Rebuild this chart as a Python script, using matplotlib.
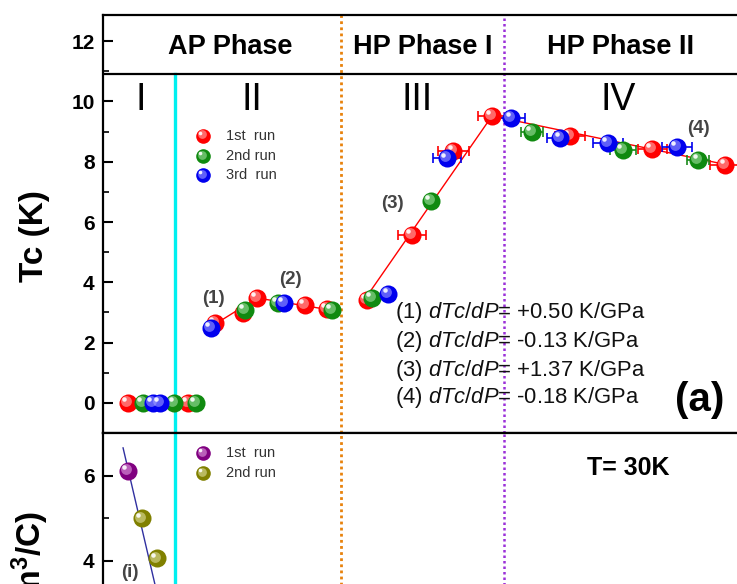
import numpy as np
import matplotlib
matplotlib.use('Agg')
import matplotlib.pyplot as plt
from matplotlib.transforms import offset_copy

plt.rcParams['font.family'] = ['Liberation Sans', 'DejaVu Sans']
plt.rcParams['mathtext.fontset'] = 'custom'
plt.rcParams['mathtext.rm'] = 'Liberation Sans'
plt.rcParams['mathtext.it'] = 'Liberation Sans:italic'
plt.rcParams['mathtext.bf'] = 'Liberation Sans:bold'

# Tc vs pressure (GPa), three runs
p_run1 = [0.00, 2.07, 3.00, 3.97, 4.45, 6.10, 6.86, 8.24, 9.79, 11.21, 12.55, 15.24, 18.07, 20.59]
tc_run1 = [0, 0, 2.65, 2.98, 3.48, 3.25, 3.12, 3.42, 5.57, 8.36, 9.52, 8.86, 8.42, 7.89]
err_run1 = [0, 0, 0, 0, 0, 0, 0, 0, 0.48, 0.53, 0.50, 0.52, 0.50, 0.52]

p_run2 = [0.52, 1.59, 2.34, 4.03, 5.17, 7.03, 8.41, 10.45, 13.93, 17.07, 19.66]
tc_run2 = [0, 0, 0, 3.08, 3.32, 3.08, 3.48, 6.70, 8.99, 8.39, 8.06]
err_run2 = [0, 0, 0, 0, 0, 0, 0, 0, 0.38, 0.45, 0.38]

p_run3 = [0.86, 1.10, 2.86, 5.38, 8.97, 11.00, 13.21, 14.90, 16.55, 18.93]
tc_run3 = [0, 0, 2.49, 3.32, 3.62, 8.12, 9.45, 8.79, 8.62, 8.49]
err_run3 = [0, 0, 0, 0, 0, 0.48, 0.48, 0.45, 0.53, 0.52]

# linear fits (red lines)
fit_p = [[0, 2.07], [2.90, 4.45], [4.45, 7.00], [8.10, 12.55], [12.55, 20.40]]
fit_tc = [[0, 0], [2.55, 3.48], [3.48, 3.08], [3.35, 9.52], [9.52, 7.95]]
fit_labels = ['(1)', '(2)', '(3)', '(4)']
fit_label_p = [2.93, 5.59, 9.10, 19.66]
fit_label_tc = [3.45, 4.11, 6.63, 9.12]
slopes = ['+0.50', '-0.13', '+1.37', '-0.18']

# lower panel
p_hall1 = [0.00]
rh_hall1 = [6.12]
p_hall2 = [0.48, 1.00]
rh_hall2 = [5.00, 4.06]
hall_fit_p = [-0.17, 1.10]
hall_fit_rh = [6.66, 2.95]

# phase boundaries
p_cyan = 1.62
p_orange = 7.34
p_purple = 12.97
phases = ['AP Phase', 'HP Phase I', 'HP Phase II']
phase_p = [3.52, 10.17, 16.97]
regions = ['I', 'II', 'III', 'IV']
region_p = [0.45, 4.28, 9.97, 16.9]

W, H = 737, 584
fig = plt.figure(figsize=(W / 100, H / 100), dpi=100)

x_left, x_right = 103, 760
ax1 = fig.add_axes([x_left / W, (H - 433) / H, (x_right - x_left) / W, (433 - 15) / H])
ax2 = fig.add_axes([x_left / W, (H - 700) / H, (x_right - x_left) / W, (700 - 433) / H])

xlim = (-0.862, 21.79)
ax1.set_xlim(xlim)
ax2.set_xlim(xlim)
ax1.set_ylim(-0.995, 12.87)
ax2.set_ylim(0.73, 7.01)


def balls(ax, x, y, color, light, size=13, z=5):
    ax.plot(x, y, 'o', ms=size, color=color, mec='none', zorder=z)
    t1 = offset_copy(ax.transData, fig=fig, x=-size * 0.1, y=size * 0.1, units='points')
    ax.plot(x, y, 'o', ms=size * 0.6, color=light, mec='none', alpha=0.6,
            transform=t1, zorder=z)
    t2 = offset_copy(ax.transData, fig=fig, x=-size * 0.2, y=size * 0.2, units='points')
    ax.plot(x, y, 'o', ms=size * 0.25, color='white', mec='none', alpha=0.9,
            transform=t2, zorder=z)


def err(ax, x, y, e, color, z=4):
    x, y, e = np.array(x), np.array(y), np.array(e)
    m = e > 0
    ax.errorbar(x[m], y[m], xerr=e[m], fmt='none', ecolor=color, elinewidth=1.2,
                capsize=3.5, capthick=1.2, zorder=z)


# frame lines and boundaries
for ax in (ax1, ax2):
    for s in ax.spines.values():
        s.set_linewidth(1.6)
    ax.spines['right'].set_visible(False)
    ax.set_xticks([])
    ax.axvline(p_orange, color='#e8820c', lw=2, ls=(0, (1, 1.2)), zorder=2)
    ax.axvline(p_purple, color='#9b30d9', lw=1.8, ls=(0, (1, 1.2)), zorder=2)
ax1.axhline(10.91, color='black', lw=1.6, zorder=3)
ax1.plot([p_cyan, p_cyan], [-1, 10.91], color='#00f0f0', lw=2.4, zorder=2)
ax2.axvline(p_cyan, color='#00f0f0', lw=2.4, zorder=2)

# fits
for fp, ft in zip(fit_p, fit_tc):
    ax1.plot(fp, ft, color='red', lw=1, zorder=3)

err(ax1, p_run1, tc_run1, err_run1, 'red')
err(ax1, p_run2, tc_run2, err_run2, '#1a8a1a')
err(ax1, p_run3, tc_run3, err_run3, '#0000ee')
balls(ax1, p_run1, tc_run1, '#ff0000', '#ffb0b0', z=5)
balls(ax1, p_run2, tc_run2, '#108a10', '#a0e0a0', z=6)
balls(ax1, p_run3, tc_run3, '#0000ee', '#a0a0ff', z=7)

# legend (upper)
leg_tc = [8.86, 8.19, 7.56]
leg_col = [('#ff0000', '#ffb0b0'), ('#108a10', '#a0e0a0'), ('#0000ee', '#a0a0ff')]
leg_txt = ['1st  run', '2nd run', '3rd  run']
for yy, (c, l), t in zip(leg_tc, leg_col, leg_txt):
    balls(ax1, [2.59], [yy], c, l, size=10.5, z=8)
    ax1.text(3.38, yy, t, fontsize=10.5, color='#333333', va='center', ha='left')

# text
for t, xp in zip(phases, phase_p):
    ax1.text(xp, 11.81, t, fontsize=19.5, fontweight='bold', ha='center', va='center')
for t, xp in zip(regions, region_p):
    ax1.text(xp, 10.05, t, fontsize=27, ha='center', va='center')
for t, xp, yp in zip(fit_labels, fit_label_p, fit_label_tc):
    ax1.text(xp, yp, t, fontsize=13.5, fontweight='bold', color='#444444',
             ha='center', va='center', zorder=9)
for i, (s, yy) in enumerate(zip(slopes, [2.99, 2.02, 1.09, 0.17])):
    ax1.text(9.21, yy, '(%d) $dTc/dP$= %s K/GPa' % (i + 1, s), fontsize=15.8,
             ha='left', va='center', color='#111111', zorder=9)
ax1.text(19.72, 0.1, '(a)', fontsize=29, fontweight='bold', ha='center', va='center')

ax1.set_yticks(np.arange(0, 13, 2))
ax1.set_yticks(np.arange(-1, 13, 1), minor=True)
ax1.tick_params(axis='y', which='major', direction='in', length=7, width=1.5,
                labelsize=15, pad=6)
ax1.tick_params(axis='y', which='minor', direction='in', length=4, width=1.2)
for lb in ax1.get_yticklabels():
    lb.set_fontweight('bold')
fig.text(35 / W, 1 - 236 / H, 'Tc (K)', fontsize=24, fontweight='bold',
         rotation=90, ha='center', va='center')

# lower panel
ax2.plot(hall_fit_p, hall_fit_rh, color='#3030a0', lw=1, zorder=3)
balls(ax2, p_hall1, rh_hall1, '#800080', '#e0a0e0', z=5)
balls(ax2, p_hall2, rh_hall2, '#808000', '#e0e0a0', z=6)
balls(ax2, [2.59], [6.54], '#800080', '#e0a0e0', size=10.5, z=8)
balls(ax2, [2.59], [6.07], '#808000', '#e0e0a0', size=10.5, z=8)
ax2.text(3.38, 6.54, '1st  run', fontsize=10.5, color='#333333', va='center')
ax2.text(3.38, 6.07, '2nd run', fontsize=10.5, color='#333333', va='center')
ax2.text(0.07, 3.74, '(i)', fontsize=13.5, fontweight='bold', color='#444444',
         ha='center', va='center')
ax2.text(17.24, 6.19, 'T= 30K', fontsize=18, fontweight='bold', ha='center', va='center')

ax2.set_yticks([4, 6])
ax2.set_yticks([5], minor=True)
ax2.tick_params(axis='y', which='major', direction='in', length=7, width=1.5,
                labelsize=15, pad=6)
ax2.tick_params(axis='y', which='minor', direction='in', length=4, width=1.2)
for lb in ax2.get_yticklabels():
    lb.set_fontweight('bold')
fig.text(51 / W, 1 - 511 / H, r'R$_\mathbf{H}$ (cm$^\mathbf{3}$/C)', fontsize=24,
         fontweight='bold', rotation=90, ha='right', va='top')

fig.savefig('out.png', dpi=100)
